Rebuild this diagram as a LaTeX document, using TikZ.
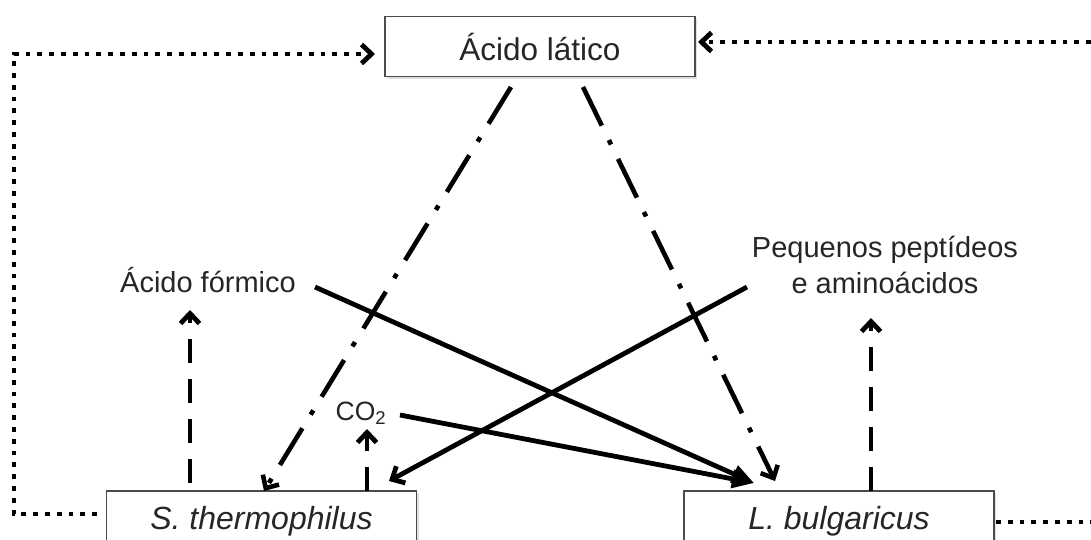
\documentclass[tikz,border=0pt]{standalone}
\usepackage{fontspec}
\setmainfont{Liberation Sans}
\usetikzlibrary{arrows.meta,shadows}
\tikzset{
  chev/.tip={Straight Barb[length=10pt,width=19pt]},
  tri/.tip={Triangle[length=22pt,width=18pt]},
  box/.style={draw=black!70, line width=1.8pt, fill=white, minimum width=310pt,
    minimum height=60pt, inner sep=0pt, text=black!85,
    drop shadow={shadow xshift=2pt,shadow yshift=-2pt,opacity=0.25}},
  lbl/.style={inner sep=0pt, text=black!85, font=\fontsize{29}{36}\selectfont, align=center},
  solidarrow/.style={line width=4.8pt, -{tri}},
  dashdotarrow/.style={line width=4.6pt, dash pattern=on 43pt off 16pt on 5pt off 16pt, -{chev}},
  dottedline/.style={line width=4.8pt, dash pattern=on 4.8pt off 7pt},
  dashedarrow/.style={line width=4.8pt, dash pattern=on 24pt off 16pt, -{chev}},
}
\begin{document}
\begin{tikzpicture}[x=1pt,y=-1pt]
\useasboundingbox (0,0) rectangle (1091,539);
\fill[white] (0,0) rectangle (1091,539);
\clip (0,0) rectangle (1091,539);

% boxes
\node[box, font=\fontsize{31.5}{36}\selectfont] (lat) at (540,46.5) {Ácido lático};
\node[box, font=\fontsize{32}{36}\selectfont\itshape] (st) at (261.5,521) {S. thermophilus};
\node[box, font=\fontsize{32}{36}\selectfont\itshape] (lb) at (839,521) {L. bulgaricus};

% labels
\node[lbl] (fo) at (208,280) {Ácido fórmico};
\node[lbl] (pep) at (885,265) {Pequenos peptídeos\\e aminoácidos};
\node[lbl, font=\fontsize{26.5}{30}\selectfont] (co) at (361,413) {CO\textsubscript{2}};

% attachment points
\coordinate (latL) at (511,87);
\coordinate (latR) at (583,87);
\coordinate (stDD) at (264,491);
\coordinate (lbDD) at (775,481);
\coordinate (lbIn) at (754,483);
\coordinate (stIn) at (389,481);
\coordinate (foOut) at (315,287);
\coordinate (coOut) at (400,415);
\coordinate (pepOut) at (747,287);
\coordinate (stFo) at (190,483);
\coordinate (foIn) at (190,310);
\coordinate (stCo) at (367,491);
\coordinate (coIn) at (367,429);
\coordinate (lbPep) at (871,491);
\coordinate (pepIn) at (871,318);
\coordinate (stW) at (97,514);
\coordinate (corner) at (14,54);
\coordinate (latW) at (375,54);
\coordinate (edgeTop) at (1091,42);
\coordinate (latE) at (698,42);
\coordinate (lbE) at (996,522);
\coordinate (edgeBot) at (1091,522);

% dash-dot arrows from lactic acid
\draw[dashdotarrow] (latL) -- (stDD);
\draw[dashdotarrow] (latR) -- (lbDD);

% solid arrows
\draw[solidarrow] (foOut) -- (lbIn);
\draw[solidarrow] (coOut) -- (lbIn);
\draw[line width=4.8pt, -{chev}] (pepOut) -- (stIn);

% dashed arrows
\draw[dashedarrow] (stFo) -- (foIn);
\draw[dashedarrow] (stCo) -- (coIn);
\draw[dashedarrow] (lbPep) -- (pepIn);

% dotted feedback lines
\draw[dottedline, -{chev}] (stW) -| (corner) -- (latW);
\draw[dottedline, -{chev}] (edgeTop) -- (latE);
\draw[dottedline] (lbE) -- (edgeBot);
\end{tikzpicture}
\end{document}
